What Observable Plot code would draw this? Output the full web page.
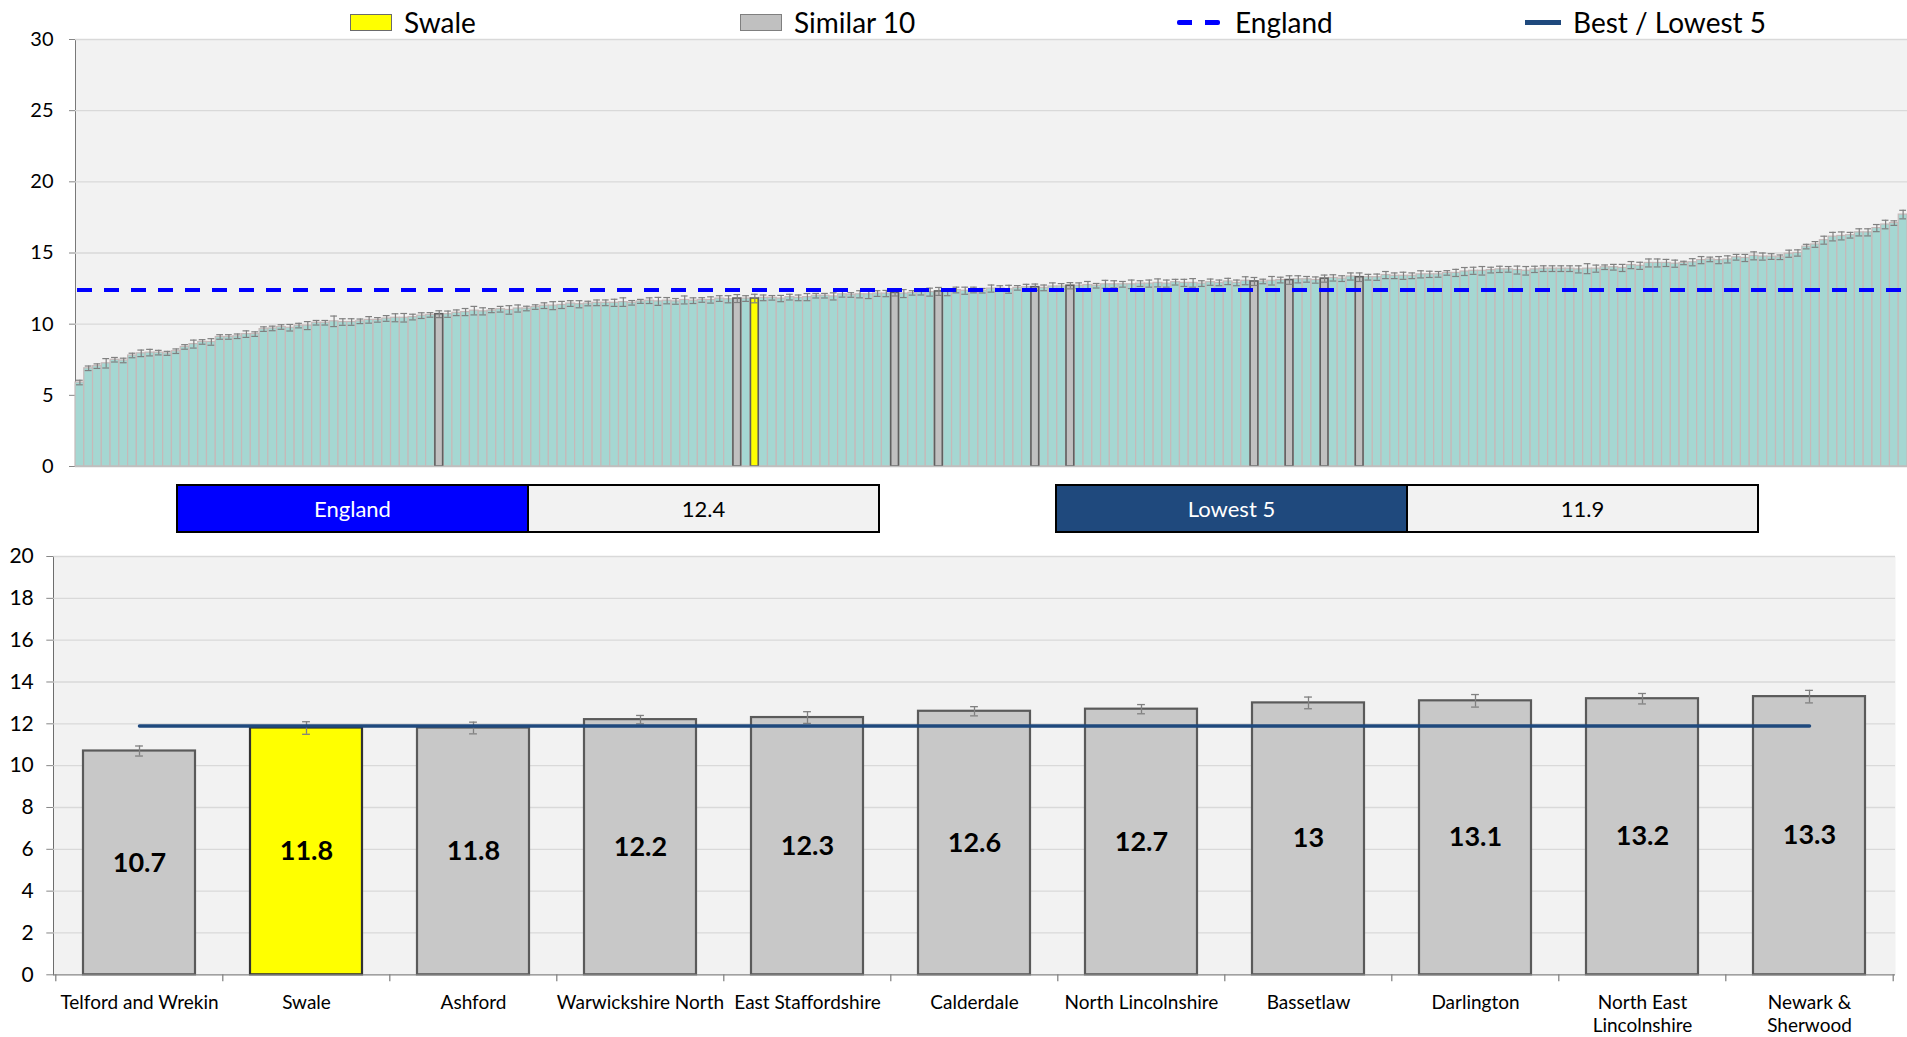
<!DOCTYPE html>
<html><head><meta charset="utf-8">
<script src="https://cdn.jsdelivr.net/npm/d3@7"></script>
<script src="https://cdn.jsdelivr.net/npm/@observablehq/plot@0.6"></script>
<style>
html,body{margin:0;padding:0;background:#fff}
body{width:1907px;height:1037px;position:relative;overflow:hidden;font-family:Lato,"Open Sans",sans-serif;color:#000}
.abs{position:absolute}
.lg{position:absolute;font-size:28px;line-height:32px;top:6px;white-space:nowrap}
.box{position:absolute;top:484px;height:45px;border:2px solid #000;display:flex;font-size:22px}
.box div{flex:1;display:flex;align-items:center;justify-content:center}
svg [aria-label^="y-axis"] line, svg [aria-label^="y-axis"] path{stroke:#868686}
</style></head><body>
<div id="topchart" class="abs" style="left:0;top:0"></div>
<div id="legend"></div>
<div id="boxes"></div>
<div id="bottomchart" class="abs" style="left:0;top:540px"></div>
<script>
// ---------- DATA ----------
const allValues = [
5.9,6.9,7.05,7.25,7.5,7.45,7.8,7.95,8.0,8.0,7.95,8.1,8.4,8.6,8.75,8.75,9.1,9.1,9.15,9.3,
9.3,9.65,9.7,9.8,9.75,9.9,9.9,10.1,10.1,10.2,10.15,10.15,10.2,10.3,10.3,10.4,10.45,10.45,10.5,10.6,
10.65,10.7,10.7,10.8,10.85,10.95,10.9,10.95,11.05,11.0,11.1,11.1,11.2,11.3,11.3,11.35,11.45,11.4,11.45,11.5,
11.5,11.5,11.55,11.5,11.6,11.65,11.6,11.65,11.6,11.7,11.65,11.7,11.7,11.8,11.75,11.8,11.8,11.8,11.85,11.85,
11.8,11.9,11.85,11.9,12.0,12.0,11.95,12.1,12.05,12.1,12.1,12.15,12.15,12.2,12.15,12.2,12.25,12.25,12.3,12.25,
12.4,12.35,12.4,12.35,12.5,12.5,12.45,12.55,12.6,12.6,12.55,12.65,12.65,12.7,12.7,12.75,12.7,12.8,12.8,12.8,
12.8,12.85,12.85,12.9,12.85,12.95,12.9,12.9,12.85,12.95,12.9,13.0,12.9,13.05,13.0,13.0,13.05,13.1,13.1,13.15,
13.15,13.1,13.2,13.25,13.2,13.35,13.3,13.3,13.3,13.45,13.4,13.4,13.4,13.5,13.5,13.5,13.6,13.6,13.7,13.75,
13.75,13.8,13.85,13.85,13.8,13.75,13.85,13.9,13.9,13.9,13.9,13.85,13.9,13.9,14.0,14.0,13.95,14.15,14.1,14.3,
14.3,14.3,14.25,14.3,14.35,14.5,14.55,14.5,14.55,14.7,14.65,14.8,14.75,14.75,14.7,14.95,15.0,15.45,15.6,15.9,
16.15,16.2,16.25,16.45,16.45,16.75,17.0,17.1,17.7
];
const allErrors = [
0.16,0.16,0.16,0.33,0.16,0.16,0.16,0.23,0.23,0.16,0.14,0.16,0.16,0.28,0.16,0.23,0.16,0.16,0.16,0.23,0.16,0.16,0.16,0.16,0.23,0.16,0.28,0.16,0.16,0.37,0.23,0.23,0.16,0.23,0.16,
0.2,0.28,0.3,0.2,0.2,0.16,0.24,0.22,0.2,0.25,0.3,0.25,0.14,0.2,0.3,0.25,0.16,0.16,0.2,0.28,0.25,0.2,0.25,0.16,0.2,0.2,0.25,0.3,0.16,0.14,0.2,0.28,0.22,0.2,
0.28,0.2,0.16,0.22,0.2,0.25,0.28,0.2,0.3,0.2,0.16,0.22,0.2,0.2,0.25,0.16,0.16,0.25,0.2,0.16,0.25,0.3,0.2,0.22,0.22,0.28,0.16,0.2,0.28,0.28,0.25,0.2,0.25,0.2,0.16,0.25,0.2,
0.28,0.16,0.2,0.22,0.2,0.25,0.2,0.22,0.2,0.25,0.16,0.28,0.25,0.2,0.3,0.2,0.25,0.28,0.25,0.2,0.25,0.3,0.2,0.22,0.2,0.22,0.2,0.28,0.28,0.16,0.3,0.2,0.3,0.25,0.2,
0.22,0.25,0.22,0.2,0.25,0.3,0.2,0.22,0.25,0.2,0.25,0.2,0.25,0.22,0.2,0.16,0.25,0.28,0.25,0.3,0.2,0.22,0.2,0.28,0.3,0.22,0.2,0.2,0.2,0.2,0.25,0.35,0.25,0.16,0.2,
0.25,0.25,0.25,0.28,0.28,0.25,0.25,0.12,0.25,0.25,0.16,0.25,0.25,0.2,0.25,0.28,0.25,0.2,0.16,0.25,0.22,0.16,0.2,0.28,0.3,0.28,0.2,0.25,0.25,0.25,0.3,0.16,0.3
];
const similarPositions = [41,75,93,98,109,113,134,138,142,146];
const swalePosition = 77;
const englandValue = 12.4;
const lowest5Value = 11.9;
const topTicks = [0,5,10,15,20,25,30];

const similarNames = ["Telford and Wrekin","Swale","Ashford","Warwickshire North","East Staffordshire","Calderdale","North Lincolnshire","Bassetlaw","Darlington","North East Lincolnshire","Newark & Sherwood"];
const similarLabels = ["Telford and Wrekin","Swale","Ashford","Warwickshire North","East Staffordshire","Calderdale","North Lincolnshire","Bassetlaw","Darlington","North East\nLincolnshire","Newark &\nSherwood"];
const similarValues = [10.7,11.8,11.8,12.2,12.3,12.6,12.7,13,13.1,13.2,13.3];
const similarErrors = [0.24,0.3,0.28,0.2,0.28,0.22,0.22,0.28,0.3,0.25,0.3];
const bottomTicks = [0,2,4,6,8,10,12,14,16,18,20];
const focusArea = "Swale";

const legendItems = ["Swale","Similar 10","England","Best / Lowest 5"];
const boxItems = [["England", englandValue], ["Lowest 5", lowest5Value]];

// ---------- COLOURS ----------
const teal = "#A5D7D2", tealEdge = "#C6B9B9", greyFill = "#C0C0C0", greyEdge = "#5F5F5F",
      yellow = "#FFFF00", errColor = "#808080", engBlue = "#0000FF", navy = "#1F497D", panel = "#F2F2F2", grid = "#D9D9D9";

// ---------- TOP CHART ----------
const topData = allValues.map((v, i) => ({
  i, v, e: allErrors[i],
  kind: i === swalePosition ? "swale" : similarPositions.includes(i) ? "similar" : "other"
}));
const fillOf = d => d.kind === "swale" ? yellow : d.kind === "similar" ? greyFill : teal;
const strokeOf = d => d.kind === "other" ? tealEdge : greyEdge;

const topPlot = Plot.plot({
  width: 1907, height: 480,
  marginTop: 39, marginBottom: 14, marginLeft: 75, marginRight: 0,
  style: {fontFamily: "Lato, sans-serif", fontSize: "20px", background: "transparent", color: "#000", overflow: "visible"},
  x: {type: "band", domain: d3.range(allValues.length), paddingInner: 0, paddingOuter: 0, axis: null},
  y: {domain: [0, 30], ticks: topTicks, tickSize: 6, tickPadding: 16, line: true, label: null},
  marks: [
    Plot.frame({fill: panel, stroke: "none"}),
    Plot.ruleY(topTicks.filter(t => t > 0), {stroke: grid, strokeWidth: 1.3}),
    Plot.barY(topData.filter(d => d.kind === "other"), {x: "i", y: "v", fill: fillOf, stroke: strokeOf, strokeWidth: 1.2}),
    Plot.barY(topData.filter(d => d.kind !== "other"), {x: "i", y: "v", fill: fillOf, stroke: strokeOf, strokeWidth: 1.6, insetLeft: 0.5, insetRight: 0.5}),
    Plot.ruleX(topData, {x: "i", y1: d => d.v - d.e, y2: d => d.v + d.e, stroke: errColor, strokeWidth: 1.2}),
    Plot.tickY(topData, {x: "i", y: d => d.v - d.e, stroke: errColor, strokeWidth: 1.2, insetLeft: 1, insetRight: 1}),
    Plot.tickY(topData, {x: "i", y: d => d.v + d.e, stroke: errColor, strokeWidth: 1.2, insetLeft: 1, insetRight: 1}),
    Plot.ruleY([englandValue], {stroke: engBlue, strokeWidth: 4, strokeDasharray: "15 12", dx: 2}),
    Plot.ruleY([0], {stroke: "#BFBFBF", strokeWidth: 1.5})
  ]
});
document.getElementById("topchart").appendChild(topPlot);

// ---------- LEGEND ----------
const legend = document.getElementById("legend");
const legendX = [350, 740, 1177, 1525];
const legendTextX = [404, 794, 1235, 1573];
legendItems.forEach((name, k) => {
  const sw = document.createElement("div");
  sw.className = "abs";
  if (k === 0 || k === 1) {
    Object.assign(sw.style, {left: legendX[k] + "px", top: "14px", width: "40px", height: "15px",
      background: k === 0 ? yellow : greyFill, border: "1.5px solid " + (k === 0 ? "#6b6b6b" : "#7F7F7F")});
  } else if (k === 2) {
    Object.assign(sw.style, {left: legendX[k] + "px", top: "20px", width: "43px", height: "5px",
      background: `linear-gradient(to right, ${engBlue} 0 15px, transparent 15px 28px, ${engBlue} 28px 43px)`, borderRadius: "2px"});
  } else {
    Object.assign(sw.style, {left: legendX[k] + "px", top: "20px", width: "36px", height: "5px", background: navy});
  }
  legend.appendChild(sw);
  const t = document.createElement("div");
  t.className = "lg";
  t.style.left = legendTextX[k] + "px";
  t.textContent = name;
  legend.appendChild(t);
});

// ---------- BOXES ----------
const boxes = document.getElementById("boxes");
const boxLeft = [176, 1055];
const boxColors = [engBlue, navy];
boxItems.forEach(([label, val], k) => {
  const b = document.createElement("div");
  b.className = "box";
  b.style.left = boxLeft[k] + "px";
  b.style.width = "700px";
  const l = document.createElement("div");
  l.style.background = boxColors[k]; l.style.color = "#fff"; l.style.borderRight = "2px solid #000";
  l.textContent = label;
  const r = document.createElement("div");
  r.style.background = panel; r.textContent = String(val);
  b.appendChild(l); b.appendChild(r);
  boxes.appendChild(b);
});

// ---------- BOTTOM CHART ----------
const W = 1907, H = 497, mL = 53.3, mR = 12, mT = 16, mB = 62.7;
const xScale = Plot.scale({x: {type: "band", domain: similarNames, range: [mL, W - mR], paddingInner: 0.33, paddingOuter: 0.165}});
const step = xScale.step !== undefined ? xScale.step : (W - mL - mR) / similarNames.length;
const simData = similarNames.map((n, k) => ({n, label: similarLabels[k], v: similarValues[k], e: similarErrors[k]}));
const lowLine = [{n: similarNames[0], v: lowest5Value}, {n: similarNames[similarNames.length - 1], v: lowest5Value}];

const bottomPlot = Plot.plot({
  width: W, height: H, marginTop: mT, marginBottom: mB, marginLeft: mL, marginRight: mR,
  style: {fontFamily: "Lato, sans-serif", fontSize: "21px", background: "transparent", color: "#000", overflow: "visible"},
  x: {type: "band", domain: similarNames, paddingInner: 0.33, paddingOuter: 0.165, axis: null},
  y: {domain: [0, 20], ticks: bottomTicks, tickSize: 7, tickPadding: 13, line: true, label: null},
  marks: [
    Plot.frame({fill: panel, stroke: "none"}),
    Plot.ruleY(bottomTicks.filter(t => t > 0), {stroke: grid, strokeWidth: 1.3}),
    Plot.barY(simData, {x: "n", y: "v", fill: d => d.n === focusArea ? yellow : "#C8C8C8",
      stroke: d => d.n === focusArea ? "#333" : "#5A5A5A", strokeWidth: 2.2}),
    Plot.ruleX(simData, {x: "n", y1: d => d.v - d.e, y2: d => d.v + d.e, stroke: errColor, strokeWidth: 1.3}),
    Plot.tickY(simData, {x: "n", y: d => d.v - d.e, stroke: errColor, strokeWidth: 1.3, insetLeft: step * 0.67 / 2 - 4, insetRight: step * 0.67 / 2 - 4}),
    Plot.tickY(simData, {x: "n", y: d => d.v + d.e, stroke: errColor, strokeWidth: 1.3, insetLeft: step * 0.67 / 2 - 4, insetRight: step * 0.67 / 2 - 4}),
    Plot.line(lowLine, {x: "n", y: "v", stroke: navy, strokeWidth: 3.5}),
    Plot.text(simData, {x: "n", y: d => d.v / 2, text: d => String(d.v), fontSize: 27, fontWeight: "bold", fill: "#000"}),
    Plot.ruleY([0], {stroke: "#868686", strokeWidth: 1.3}),
    Plot.ruleX(simData, {x: "n", y1: 0, y2: 0, dx: -step / 2, insetBottom: -7, stroke: "#868686", strokeWidth: 1.3}),
    Plot.ruleX([simData[simData.length - 1]], {x: "n", y1: 0, y2: 0, dx: step / 2, insetBottom: -7, stroke: "#868686", strokeWidth: 1.3}),
    Plot.text(simData, {x: "n", y: 0, text: "label", dy: 17, lineAnchor: "top", fontSize: 19, fill: "#000", lineHeight: 1.25})
  ]
});
document.getElementById("bottomchart").appendChild(bottomPlot);
</script>
</body></html>
